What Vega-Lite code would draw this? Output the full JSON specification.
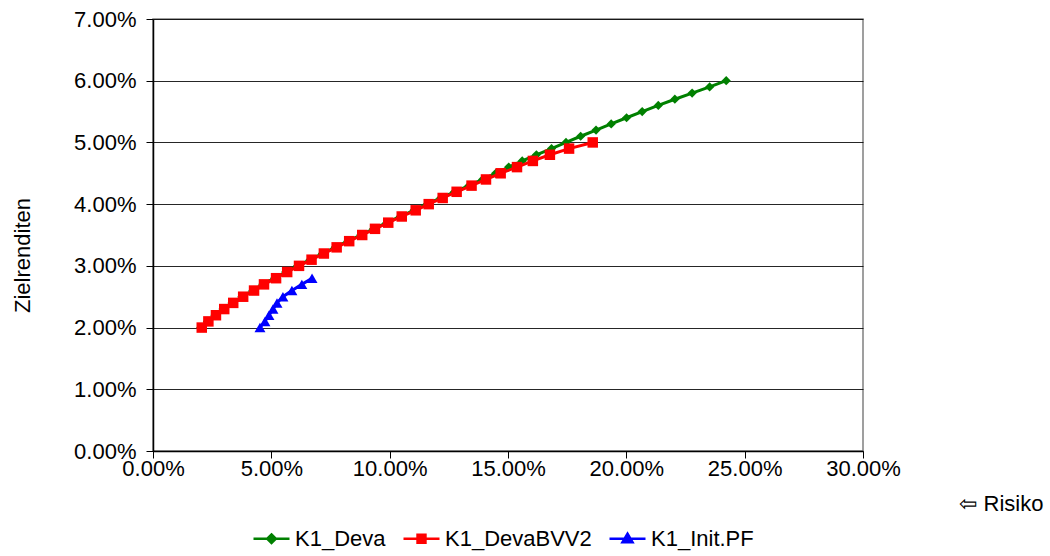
{
  "$schema": "https://vega.github.io/schema/vega-lite/v6.json",
  "autosize": "none",
  "width": 710,
  "height": 432,
  "padding": {"left": 153, "top": 19, "right": 187, "bottom": 105},
  "background": "white",
  "config": {
    "font": "Liberation Sans",
    "view": {"stroke": "#808080", "strokeWidth": 1.5},
    "axis": {
      "labelFont": "Liberation Sans",
      "titleFont": "Liberation Sans",
      "labelFontSize": 22,
      "titleFontSize": 22,
      "titleFontWeight": "normal",
      "labelColor": "#000",
      "titleColor": "#000",
      "domainColor": "#000",
      "domainWidth": 1.5,
      "tickColor": "#000",
      "tickSize": 7,
      "tickWidth": 1
    },
    "legend": {"labelFont": "Liberation Sans", "labelFontSize": 22, "labelColor": "#000"}
  },
  "datasets": {
    "frontier": [
      {"series": "K1_Deva", "risk": 0.0202, "ret": 0.020},
      {"series": "K1_Deva", "risk": 0.0230, "ret": 0.021},
      {"series": "K1_Deva", "risk": 0.0262, "ret": 0.022},
      {"series": "K1_Deva", "risk": 0.0296, "ret": 0.023},
      {"series": "K1_Deva", "risk": 0.0334, "ret": 0.024},
      {"series": "K1_Deva", "risk": 0.0376, "ret": 0.025},
      {"series": "K1_Deva", "risk": 0.0422, "ret": 0.026},
      {"series": "K1_Deva", "risk": 0.0464, "ret": 0.027},
      {"series": "K1_Deva", "risk": 0.0514, "ret": 0.028},
      {"series": "K1_Deva", "risk": 0.0561, "ret": 0.029},
      {"series": "K1_Deva", "risk": 0.0611, "ret": 0.030},
      {"series": "K1_Deva", "risk": 0.0664, "ret": 0.031},
      {"series": "K1_Deva", "risk": 0.0716, "ret": 0.032},
      {"series": "K1_Deva", "risk": 0.0770, "ret": 0.033},
      {"series": "K1_Deva", "risk": 0.0823, "ret": 0.034},
      {"series": "K1_Deva", "risk": 0.0878, "ret": 0.035},
      {"series": "K1_Deva", "risk": 0.0932, "ret": 0.036},
      {"series": "K1_Deva", "risk": 0.0988, "ret": 0.037},
      {"series": "K1_Deva", "risk": 0.1045, "ret": 0.038},
      {"series": "K1_Deva", "risk": 0.1103, "ret": 0.039},
      {"series": "K1_Deva", "risk": 0.1158, "ret": 0.040},
      {"series": "K1_Deva", "risk": 0.1216, "ret": 0.041},
      {"series": "K1_Deva", "risk": 0.1274, "ret": 0.042},
      {"series": "K1_Deva", "risk": 0.1335, "ret": 0.043},
      {"series": "K1_Deva", "risk": 0.1393, "ret": 0.044},
      {"series": "K1_Deva", "risk": 0.1448, "ret": 0.045},
      {"series": "K1_Deva", "risk": 0.1503, "ret": 0.046},
      {"series": "K1_Deva", "risk": 0.1560, "ret": 0.047},
      {"series": "K1_Deva", "risk": 0.1620, "ret": 0.048},
      {"series": "K1_Deva", "risk": 0.1684, "ret": 0.049},
      {"series": "K1_Deva", "risk": 0.1745, "ret": 0.050},
      {"series": "K1_Deva", "risk": 0.1807, "ret": 0.051},
      {"series": "K1_Deva", "risk": 0.1872, "ret": 0.052},
      {"series": "K1_Deva", "risk": 0.1936, "ret": 0.053},
      {"series": "K1_Deva", "risk": 0.2001, "ret": 0.054},
      {"series": "K1_Deva", "risk": 0.2067, "ret": 0.055},
      {"series": "K1_Deva", "risk": 0.2135, "ret": 0.056},
      {"series": "K1_Deva", "risk": 0.2205, "ret": 0.057},
      {"series": "K1_Deva", "risk": 0.2278, "ret": 0.058},
      {"series": "K1_Deva", "risk": 0.2352, "ret": 0.059},
      {"series": "K1_Deva", "risk": 0.2422, "ret": 0.060},
      {"series": "K1_DevaBVV2", "risk": 0.0206, "ret": 0.020},
      {"series": "K1_DevaBVV2", "risk": 0.0234, "ret": 0.021},
      {"series": "K1_DevaBVV2", "risk": 0.0266, "ret": 0.022},
      {"series": "K1_DevaBVV2", "risk": 0.0301, "ret": 0.023},
      {"series": "K1_DevaBVV2", "risk": 0.0339, "ret": 0.024},
      {"series": "K1_DevaBVV2", "risk": 0.0381, "ret": 0.025},
      {"series": "K1_DevaBVV2", "risk": 0.0427, "ret": 0.026},
      {"series": "K1_DevaBVV2", "risk": 0.0469, "ret": 0.027},
      {"series": "K1_DevaBVV2", "risk": 0.0520, "ret": 0.028},
      {"series": "K1_DevaBVV2", "risk": 0.0567, "ret": 0.029},
      {"series": "K1_DevaBVV2", "risk": 0.0617, "ret": 0.030},
      {"series": "K1_DevaBVV2", "risk": 0.0670, "ret": 0.031},
      {"series": "K1_DevaBVV2", "risk": 0.0722, "ret": 0.032},
      {"series": "K1_DevaBVV2", "risk": 0.0776, "ret": 0.033},
      {"series": "K1_DevaBVV2", "risk": 0.0829, "ret": 0.034},
      {"series": "K1_DevaBVV2", "risk": 0.0884, "ret": 0.035},
      {"series": "K1_DevaBVV2", "risk": 0.0938, "ret": 0.036},
      {"series": "K1_DevaBVV2", "risk": 0.0994, "ret": 0.037},
      {"series": "K1_DevaBVV2", "risk": 0.1051, "ret": 0.038},
      {"series": "K1_DevaBVV2", "risk": 0.1110, "ret": 0.039},
      {"series": "K1_DevaBVV2", "risk": 0.1165, "ret": 0.040},
      {"series": "K1_DevaBVV2", "risk": 0.1224, "ret": 0.041},
      {"series": "K1_DevaBVV2", "risk": 0.1283, "ret": 0.042},
      {"series": "K1_DevaBVV2", "risk": 0.1346, "ret": 0.043},
      {"series": "K1_DevaBVV2", "risk": 0.1407, "ret": 0.044},
      {"series": "K1_DevaBVV2", "risk": 0.1469, "ret": 0.045},
      {"series": "K1_DevaBVV2", "risk": 0.1538, "ret": 0.046},
      {"series": "K1_DevaBVV2", "risk": 0.1605, "ret": 0.047},
      {"series": "K1_DevaBVV2", "risk": 0.1677, "ret": 0.048},
      {"series": "K1_DevaBVV2", "risk": 0.1758, "ret": 0.049},
      {"series": "K1_DevaBVV2", "risk": 0.1858, "ret": 0.050},
      {"series": "K1_Init.PF", "risk": 0.0452, "ret": 0.020},
      {"series": "K1_Init.PF", "risk": 0.0473, "ret": 0.021},
      {"series": "K1_Init.PF", "risk": 0.0490, "ret": 0.022},
      {"series": "K1_Init.PF", "risk": 0.0507, "ret": 0.023},
      {"series": "K1_Init.PF", "risk": 0.0524, "ret": 0.024},
      {"series": "K1_Init.PF", "risk": 0.0549, "ret": 0.025},
      {"series": "K1_Init.PF", "risk": 0.0587, "ret": 0.026},
      {"series": "K1_Init.PF", "risk": 0.0629, "ret": 0.027},
      {"series": "K1_Init.PF", "risk": 0.0672, "ret": 0.028}
    ]
  },
  "data": {"name": "frontier"},
  "encoding": {
    "x": {
      "field": "risk",
      "type": "quantitative",
      "scale": {"domain": [0, 0.3], "nice": false, "zero": true},
      "axis": {
        "values": [0, 0.05, 0.1, 0.15, 0.2, 0.25, 0.3],
        "format": ".2%",
        "grid": false,
        "labelPadding": 0,
        "labelFlush": false,
        "title": "⇦ Risiko",
        "titleAlign": "right",
        "titleAnchor": "start",
        "titleBaseline": "middle",
        "titleX": 890,
        "titleY": 52
      }
    },
    "y": {
      "field": "ret",
      "type": "quantitative",
      "scale": {"domain": [0, 0.07], "nice": false},
      "axis": {
        "values": [0, 0.01, 0.02, 0.03, 0.04, 0.05, 0.06, 0.07],
        "format": ".2%",
        "grid": true,
        "gridColor": "#000",
        "gridWidth": 1,
        "gridOpacity": 0.85,
        "labelPadding": 10,
        "labelFlush": false,
        "title": "Zielrenditen",
        "titleAngle": -90,
        "titleAlign": "center",
        "titleBaseline": "middle",
        "titleX": -131,
        "titleY": 236
      }
    },
    "color": {
      "field": "series",
      "type": "nominal",
      "scale": {
        "domain": ["K1_Deva", "K1_DevaBVV2", "K1_Init.PF"],
        "range": ["#008000", "#ff0000", "#0000ff"]
      },
      "legend": {
        "orient": "none",
        "legendX": 99,
        "legendY": 500,
        "direction": "horizontal",
        "title": null,
        "symbolSize": 1296,
        "symbolStrokeWidth": 2.5,
        "labelOffset": 4,
        "labelLimit": 0,
        "columnPadding": 12,
        "labelFontSize": 22,
        "encode": {
          "symbols": {
            "update": {
              "shape": {"signal": "datum.value === 'K1_Deva' ? 'M-1,0H1M0,-0.24L0.24,0L0,0.24L-0.24,0Z' : datum.value === 'K1_DevaBVV2' ? 'M-1,0H1M-0.22,-0.22H0.22V0.22H-0.22Z' : 'M-1,0H1M0,-0.28L0.28,0.2H-0.28Z'"},
              "fill": {"signal": "datum.value === 'K1_Deva' ? '#008000' : datum.value === 'K1_DevaBVV2' ? '#ff0000' : '#0000ff'"},
              "stroke": {"signal": "datum.value === 'K1_Deva' ? '#008000' : datum.value === 'K1_DevaBVV2' ? '#ff0000' : '#0000ff'"},
              "strokeWidth": {"value": 2.5}
            }
          }
        }
      }
    }
  },
  "layer": [
    {
      "transform": [{"filter": "datum.series === 'K1_Deva'"}],
      "mark": {"type": "line", "strokeWidth": 3, "point": {"shape": "diamond", "size": 85, "filled": true, "opacity": 1}}
    },
    {
      "transform": [{"filter": "datum.series === 'K1_DevaBVV2'"}],
      "mark": {"type": "line", "strokeWidth": 3, "point": {"shape": "square", "size": 110, "filled": true, "opacity": 1}}
    },
    {
      "transform": [{"filter": "datum.series === 'K1_Init.PF'"}],
      "mark": {"type": "line", "strokeWidth": 3, "point": {"shape": "triangle-up", "size": 120, "filled": true, "opacity": 1}}
    }
  ]
}
